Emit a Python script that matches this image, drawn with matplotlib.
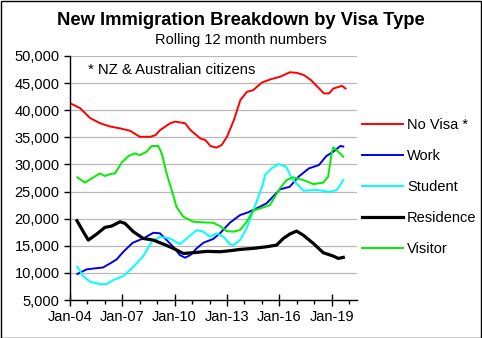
import matplotlib.pyplot as plt
from matplotlib.patches import Rectangle

plt.rcParams['font.family'] = ['Liberation Sans', 'DejaVu Sans']

# Rolling 12 month totals, x in decimal years
no_visa_t = [2004.0, 2004.57, 2005.15, 2005.72, 2006.3, 2006.87, 2007.45, 2008.0, 2008.6,
             2008.9, 2009.17, 2009.75, 2010.03, 2010.6, 2010.9, 2011.47, 2011.76, 2012.05,
             2012.4, 2012.7, 2013.0, 2013.4, 2013.77, 2014.15, 2014.5, 2015.0, 2015.5,
             2016.07, 2016.6, 2017.0, 2017.4, 2017.8, 2018.2, 2018.56, 2018.85, 2019.1,
             2019.6, 2019.8]
no_visa = [41300, 40400, 38560, 37600, 37000, 36650, 36200, 35100, 35100,
           35400, 36350, 37600, 37900, 37600, 36350, 34800, 34500, 33400,
           33100, 33600, 35100, 38200, 41900, 43400, 43700, 45100, 45700,
           46200, 47000, 46900, 46500, 45600, 44300, 43100, 43100, 44000,
           44500, 44000]

work_t = [2004.42, 2004.96, 2005.34, 2005.9, 2006.3, 2006.68, 2007.06, 2007.6, 2008.2,
          2008.78, 2009.16, 2009.54, 2009.92, 2010.3, 2010.6, 2010.9, 2011.26, 2011.65,
          2012.2, 2012.6, 2013.17, 2013.75, 2014.2, 2014.7, 2015.27, 2016.04, 2016.6,
          2017.1, 2017.7, 2018.27, 2018.7, 2019.1, 2019.5, 2019.67]
work = [9800, 10650, 10800, 11000, 11750, 12500, 13900, 15560, 16350,
        17400, 17300, 16050, 14820, 13280, 12800, 13280, 14520, 15560,
        16240, 17300, 19250, 20660, 21150, 21900, 22820, 25400, 25890,
        27730, 29270, 29890, 31550, 32350, 33400, 33300]

student_t = [2004.42, 2004.76, 2005.15, 2005.72, 2006.1, 2006.48, 2007.06, 2007.63, 2008.2,
             2008.68, 2009.16, 2009.73, 2010.3, 2010.7, 2011.26, 2011.64, 2012.03, 2012.4,
             2012.8, 2013.17, 2013.37, 2013.75, 2014.13, 2014.7, 2015.08, 2015.18, 2015.56,
             2015.94, 2016.4, 2016.7, 2016.8, 2017.4, 2018.1, 2018.9, 2019.3, 2019.5,
             2019.67]
student = [11120, 9410, 8360, 7930, 7930, 8670, 9410, 11120, 13100,
           15740, 16660, 16350, 15310, 16350, 17900, 17600, 16660, 17300,
           16660, 15310, 15130, 16050, 18210, 23130, 26510, 28040, 29270,
           30070, 29570, 27500, 27120, 25150, 25300, 24960, 25300, 26200,
           27120]

residence_t = [2004.4, 2004.76, 2005.05, 2005.53, 2006.0, 2006.39, 2006.87, 2007.15, 2007.63,
               2008.2, 2008.78, 2009.35, 2009.93, 2010.5, 2011.07, 2011.84, 2012.6, 2013.17,
               2013.75, 2014.5, 2015.27, 2015.85, 2016.23, 2016.6, 2016.99, 2017.37, 2017.95,
               2018.52, 2019.1, 2019.38, 2019.67]
residence = [19620, 17600, 16050, 17160, 18390, 18640, 19430, 19130, 17600,
             16350, 16050, 15310, 14520, 13580, 13720, 13970, 13900, 14090,
             14330, 14520, 14820, 15130, 16350, 17160, 17710, 16970, 15440,
             13720, 13100, 12670, 12860]

visitor_t = [2004.42, 2004.86, 2005.34, 2005.72, 2006.0, 2006.3, 2006.58, 2006.96, 2007.35,
             2007.73, 2008.0, 2008.4, 2008.68, 2009.06, 2009.26, 2009.54, 2009.77, 2009.92,
             2010.1, 2010.5, 2011.07, 2011.65, 2012.2, 2012.6, 2012.98, 2013.37, 2013.75,
             2014.13, 2014.5, 2015.08, 2015.46, 2016.04, 2016.42, 2016.8, 2017.38, 2017.95,
             2018.52, 2018.8, 2019.0, 2019.1, 2019.38, 2019.67]
visitor = [27620, 26640, 27620, 28350, 27860, 28230, 28350, 30320, 31550,
           32040, 31730, 32350, 33400, 33400, 32040, 28350, 25890, 24350,
           22200, 20350, 19430, 19310, 19250, 18640, 17710, 17600, 17900,
           19430, 21460, 22080, 22490, 25590, 27120, 27620, 27120, 26380,
           26640, 27740, 32040, 33150, 32350, 31430]

tick_years = [2004, 2007, 2010, 2013, 2016, 2019]
tick_labels = ['Jan-04', 'Jan-07', 'Jan-10', 'Jan-13', 'Jan-16', 'Jan-19']
minor_years = [y for y in range(2005, 2021) if y not in tick_years]

fig = plt.figure(figsize=(4.82, 3.38), dpi=100)
ax = fig.add_axes([70 / 482, 1 - 300 / 338, 287 / 482, 244 / 338])

ax.plot(no_visa_t, no_visa, color='#ff0000', lw=1.4, label='No Visa *')
ax.plot(work_t, work, color='#0000ee', lw=1.4, label='Work')
ax.plot(student_t, student, color='#00ffff', lw=1.4, label='Student')
ax.plot(residence_t, residence, color='black', lw=2.3, label='Residence')
ax.plot(visitor_t, visitor, color='#00ee00', lw=1.4, label='Visitor')

ax.set_xlim(2004, 2004 + 287 / 17.44)
ax.set_ylim(5000, 50000)
ax.set_yticks(range(5000, 50001, 5000))
ax.set_yticklabels([f'{v:,}' for v in range(5000, 50001, 5000)])
ax.set_xticks(tick_years)
ax.set_xticklabels(tick_labels)
ax.set_xticks(minor_years, minor=True)
ax.tick_params(axis='y', labelsize=10.5, length=4, color='black', width=1)
ax.tick_params(axis='x', which='major', labelsize=10.5, direction='inout',
               length=8, color='black', width=1, pad=3)
ax.tick_params(axis='x', which='minor', direction='out', length=3,
               color='black', width=1)
ax.grid(axis='y', color='#b8b8b8', lw=0.9)
ax.set_axisbelow(True)
for s in ['top', 'right']:
    ax.spines[s].set_visible(False)
for s in ['left', 'bottom']:
    ax.spines[s].set_color('black')
    ax.spines[s].set_linewidth(1)

ax.text(2005.05, 46700, '* NZ & Australian citizens', fontsize=10.7)

ax.legend(loc='upper left', bbox_to_anchor=(362 / 482, 1 - 118 / 338),
          bbox_transform=fig.transFigure, frameon=False, fontsize=10.5,
          handlelength=2.8, handletextpad=0.3, labelspacing=1.16,
          borderpad=0, borderaxespad=0)

fig.text(0.5, 1 - 20.5 / 338, 'New Immigration Breakdown by Visa Type',
         ha='center', va='center', fontsize=13.2, fontweight='bold')
fig.text(0.5, 1 - 40 / 338, 'Rolling 12 month numbers',
         ha='center', va='center', fontsize=10.5)

fig.add_artist(Rectangle((0.5 / 482, 0.5 / 338), 480.5 / 482, 336.5 / 338,
                         transform=fig.transFigure, fill=False, ec='black', lw=1))

fig.savefig('out.png', dpi=100)
